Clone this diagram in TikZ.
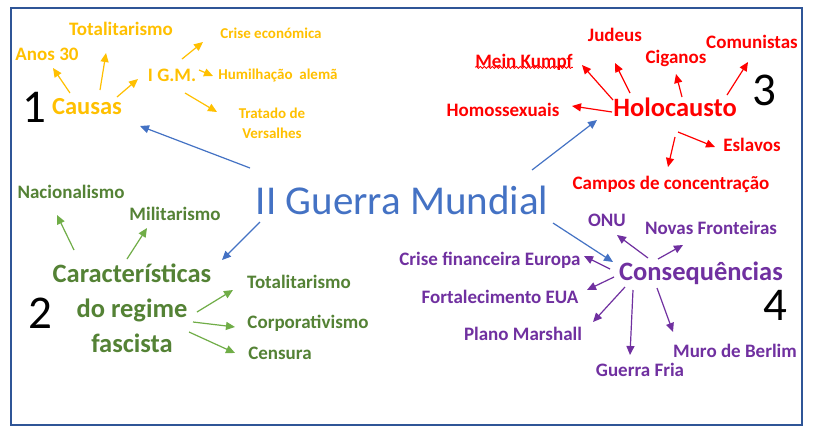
\documentclass[tikz,border=0pt]{standalone}
\usepackage{fontspec}
\setmainfont{Carlito}
\usetikzlibrary{arrows.meta,decorations.pathmorphing}
\definecolor{cgold}{RGB}{255,192,0}
\definecolor{cred}{RGB}{255,0,0}
\definecolor{cgreen}{RGB}{84,130,53}
\definecolor{cgreenarr}{RGB}{112,173,71}
\definecolor{cpurple}{RGB}{112,48,160}
\definecolor{cblue}{RGB}{68,114,196}
\definecolor{cframe}{RGB}{47,85,151}
\tikzset{
  lbl/.style={inner sep=0pt, font=\bfseries\fontsize{19}{23}\selectfont},
  sml/.style={inner sep=0pt, font=\bfseries\fontsize{15}{20}\selectfont, align=center},
  big/.style={inner sep=0pt, font=\bfseries\fontsize{26.5}{35}\selectfont, align=center},
  num/.style={inner sep=0pt, font=\fontsize{47}{50}\selectfont, text=black},
  arr/.style={line width=1.2pt, -{Triangle[length=9pt,width=8pt]}},
}
\begin{document}
\begin{tikzpicture}[x=1pt,y=-1pt]
\useasboundingbox (0,0) rectangle (815,437);
\fill[white] (0,0) rectangle (815,437);
\draw[cframe, line width=2.5pt] (11,8) rectangle (802,425);

% title
\node[inner sep=0pt, text=cblue, font=\fontsize{41}{45}\selectfont] (guerra) at (402,200) {II Guerra Mundial};

% section 1
\node[num] (one) at (34,107) {1};
\node[big, text=cgold, font=\bfseries\fontsize{24.5}{30}\selectfont] (causas) at (87,107) {Causas};
\node[lbl, text=cgold] (anos) at (47,54) {Anos 30};
\node[lbl, text=cgold] (tot1) at (121,29) {Totalitarismo};
\node[lbl, text=cgold] (igm) at (172,75) {I G.M.};
\node[sml, text=cgold] (crise) at (271,33) {Crise económica};
\node[sml, text=cgold] (humil) at (278,75) {Humilhação\ \ alemã};
\node[sml, text=cgold] (tratado) at (272,123) {Tratado de\\Versalhes};
\begin{scope}[cgold]
\draw[arr] ([shift={(-17,-14)}]causas.center) -- ([shift={(6,14)}]anos.center);
\draw[arr] ([shift={(13,-17)}]causas.center) -- ([shift={(-15,24)}]tot1.center);
\draw[arr] ([shift={(30,-10)}]causas.center) -- ([shift={(-34,4)}]igm.center);
\draw[arr] ([shift={(10,-16)}]igm.center) -- ([shift={(-68,9)}]crise.center);
\draw[arr] ([shift={(27,-5)}]igm.center) -- ([shift={(-65,1)}]humil.center);
\draw[arr] ([shift={(13,18)}]igm.center) -- ([shift={(-55,-11)}]tratado.center);
\end{scope}

% section 3
\node[num] (three) at (764,90) {3};
\node[big, text=cred] (holo) at (675,107) {Holocausto};
\node[lbl, text=cred] (judeus) at (615,35) {Judeus};
\node[lbl, text=cred] (mein) at (524,62) {Mein Kumpf};
\node[lbl, text=cred] (ciganos) at (676,58) {Ciganos};
\node[lbl, text=cred] (comun) at (752,42) {Comunistas};
\node[lbl, text=cred] (homo) at (503,110) {Homossexuais};
\node[lbl, text=cred] (eslavos) at (752,145) {Eslavos};
\node[lbl, text=cred] (campos) at (671,184) {Campos de concentração};
\draw[cred, line width=0.8pt, decorate, decoration={snake, amplitude=1pt, segment length=4pt}]
  ([yshift=3pt]mein.south west) -- ([yshift=3pt]mein.south east);
\begin{scope}[cred]
\draw[arr] ([shift={(-62,-7)}]holo.center) -- ([shift={(58,3)}]mein.center);
\draw[arr] ([shift={(-45,-14)}]holo.center) -- ([shift={(0,28)}]judeus.center);
\draw[arr] ([shift={(7,-10)}]holo.center) -- ([shift={(0,16)}]ciganos.center);
\draw[arr] ([shift={(52,-12)}]holo.center) -- ([shift={(-4,20)}]comun.center);
\draw[arr] ([shift={(-63,5)}]holo.center) -- ([shift={(69,-4)}]homo.center);
\draw[arr] ([shift={(3,25)}]holo.center) -- ([shift={(-37,2)}]eslavos.center);
\draw[arr] ([shift={(0,30)}]holo.center) -- ([shift={(-3,-17)}]campos.center);
\end{scope}

% section 2
\node[num] (two) at (40,313) {2};
\node[big, text=cgreen] (caract) at (132,308) {Características\\do regime\\fascista};
\node[lbl, text=cgreen] (nacion) at (71,192) {Nacionalismo};
\node[lbl, text=cgreen] (milit) at (175,214) {Militarismo};
\node[lbl, text=cgreen] (tot2) at (299,282) {Totalitarismo};
\node[lbl, text=cgreen] (corpo) at (308,323) {Corporativismo};
\node[lbl, text=cgreen] (censura) at (280,353) {Censura};
\begin{scope}[cgreenarr]
\draw[arr] ([shift={(-58,-58)}]caract.center) -- ([shift={(-14,23)}]nacion.center);
\draw[arr] ([shift={(-5,-49)}]caract.center) -- ([shift={(-28,14)}]milit.center);
\draw[arr] ([shift={(65,4)}]caract.center) -- ([shift={(-66,8)}]tot2.center);
\draw[arr] ([shift={(61,14)}]caract.center) -- ([shift={(-73,4)}]corpo.center);
\draw[arr] ([shift={(57,24)}]caract.center) -- ([shift={(-45,0)}]censura.center);
\end{scope}

% section 4
\node[num] (four) at (775,305) {4};
\node[big, text=cpurple] (cons) at (701,273) {Consequências};
\node[lbl, text=cpurple] (onu) at (607,220) {ONU};
\node[lbl, text=cpurple] (novas) at (711,228) {Novas Fronteiras};
\node[lbl, text=cpurple] (crisef) at (490,260) {Crise financeira Europa};
\node[lbl, text=cpurple] (forta) at (500,297) {Fortalecimento EUA};
\node[lbl, text=cpurple] (plano) at (523,334) {Plano Marshall};
\node[lbl, text=cpurple] (muro) at (735,351) {Muro de Berlim};
\node[lbl, text=cpurple] (gfria) at (640,370) {Guerra Fria};
\begin{scope}[cpurple]
\draw[arr] ([shift={(-53,-15)}]cons.center) -- ([shift={(10,15)}]onu.center);
\draw[arr] ([shift={(-43,-14)}]cons.center) -- ([shift={(-28,17)}]novas.center);
\draw[arr] ([shift={(-91,-4)}]cons.center) -- ([shift={(94,-4)}]crisef.center);
\draw[arr] ([shift={(-87,4)}]cons.center) -- ([shift={(87,-7)}]forta.center);
\draw[arr] ([shift={(-76,14)}]cons.center) -- ([shift={(70,-12)}]plano.center);
\draw[arr] ([shift={(-68,17)}]cons.center) -- ([shift={(-10,-15)}]gfria.center);
\draw[arr] ([shift={(-44,15)}]cons.center) -- ([shift={(-62,-19)}]muro.center);
\end{scope}

% blue connectors
\begin{scope}[cblue]
\draw[arr] ([shift={(-152,-32)}]guerra.center) -- ([shift={(53,19)}]causas.center);
\draw[arr] ([shift={(-142,22)}]guerra.center) -- ([shift={(90,-48)}]caract.center);
\draw[arr] ([shift={(130,-30)}]guerra.center) -- ([shift={(-78,13)}]holo.center);
\draw[arr] ([shift={(151,23)}]guerra.center) -- ([shift={(-88,-11)}]cons.center);
\end{scope}
\end{tikzpicture}
\end{document}
